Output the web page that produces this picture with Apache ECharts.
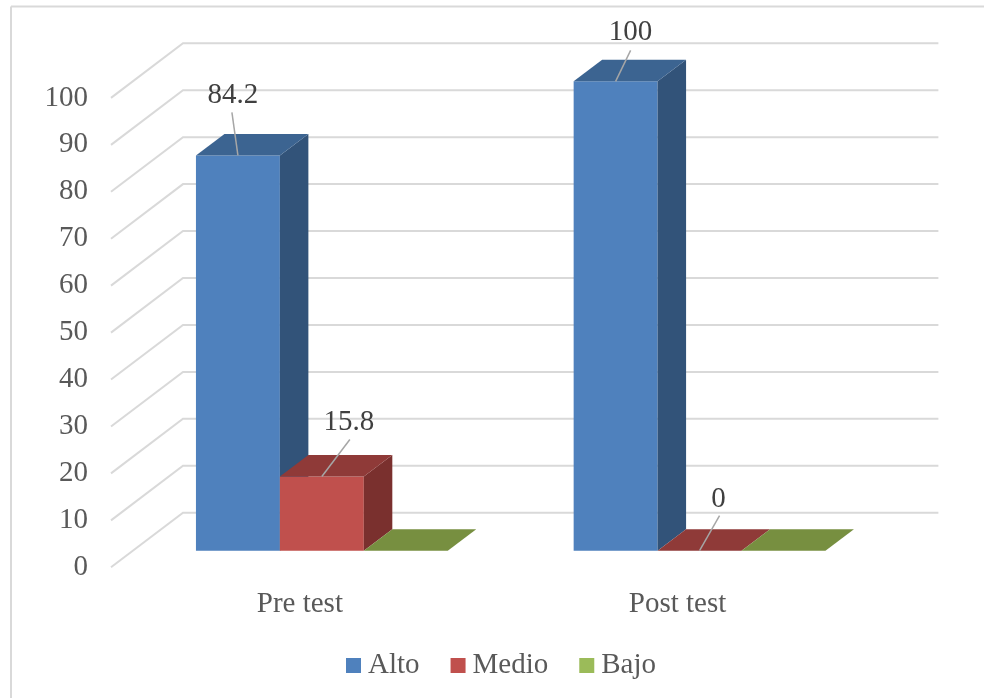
<!DOCTYPE html>
<html>
<head>
<meta charset="utf-8">
<style>html,body{margin:0;padding:0;background:#fff}#c{width:984px;height:698px}</style>
<script src="https://cdn.jsdelivr.net/npm/echarts@6/dist/echarts.min.js"></script>
</head>
<body>
<div id="c"></div>
<script>
const categories = ['Pre test', 'Post test'];
const alto = [84.2, 100];
const medio = [15.8, 0];
const bajo = [0, 0];
const ticks = [0, 10, 20, 30, 40, 50, 60, 70, 80, 90, 100];

const FONT = '"Liberation Serif", "Times New Roman", serif';
const WALL = { dx: 72, dy: -54.6 };
const PLANE = { dx: 22, dy: -16.6 };
const DEPTH = { dx: 28.5, dy: -21.5 };
const BAR_FRACTION = 2 / 9;

// Hand-placed data labels of the reference: offsets from the middle of the top front edge.
const labelPlacement = {
  Alto: [{ text: [-5, -60.5], line: [-6, -43] }, { text: [15, -49], line: [15, -31] }],
  Medio: [{ text: [27, -54.5], line: [28, -37] }, { text: [19, -51.5], line: [20, -35] }],
  Bajo: [null, null]
};

const palette = {
  Alto: { front: '#4f81bd', top: '#3c6491', side: '#325379' },
  Medio: { front: '#c0504d', top: '#8f3a38', side: '#7a302e' },
  Bajo: { front: '#9bbb59', top: '#778f40', side: '#62762f' }
};

function barSeries(name, values, index) {
  return {
    name, type: 'custom', z: 3, clip: false, silent: true,
    itemStyle: { color: palette[name].front },
    encode: { x: 0, y: 1 },
    data: values.map((v, i) => [i, v]),
    renderItem(params, api) {
      const band = api.size([1, 0])[0];
      const w = band * BAR_FRACTION;
      const cat = api.value(0);
      const base = api.coord([cat, 0]);
      const top = api.coord([cat, api.value(1)]);
      const x0 = base[0] + PLANE.dx - w * 1.5 + w * index;
      const x1 = x0 + w;
      const yb = base[1] + PLANE.dy;
      const yt = top[1] + PLANE.dy;
      const c = palette[name];
      const poly = (points, fill) => ({ type: 'polygon', shape: { points }, style: { fill } });
      const children = [];
      if (yb - yt > 0.5) {
        children.push(poly([[x0, yb], [x1, yb], [x1, yt], [x0, yt]], c.front));
        children.push(poly([[x1, yb], [x1 + DEPTH.dx, yb + DEPTH.dy], [x1 + DEPTH.dx, yt + DEPTH.dy], [x1, yt]], c.side));
      }
      children.push(poly([[x0, yt], [x1, yt], [x1 + DEPTH.dx, yt + DEPTH.dy], [x0 + DEPTH.dx, yt + DEPTH.dy]], c.top));
      const place = labelPlacement[name][cat];
      if (place) {
        const cx = (x0 + x1) / 2;
        children.push({
          type: 'line', z2: 5,
          shape: { x1: cx, y1: yt, x2: cx + place.line[0], y2: yt + place.line[1] },
          style: { stroke: '#a6a6a6', lineWidth: 1.5 }
        });
        children.push({
          type: 'text', z2: 6,
          style: {
            text: String(api.value(1)), x: cx + place.text[0], y: yt + place.text[1],
            align: 'center', verticalAlign: 'middle',
            font: '29px ' + FONT, fill: '#404040'
          }
        });
      }
      return { type: 'group', children };
    }
  };
}

const wallSeries = {
  type: 'custom', z: 1, clip: false, silent: true,
  encode: { x: 0, y: 1 },
  data: ticks.map(t => [0, t]),
  renderItem(params, api) {
    const cs = params.coordSys;
    const y = api.coord([0, api.value(1)])[1];
    return {
      type: 'polyline',
      shape: { points: [[cs.x, y], [cs.x + WALL.dx, y + WALL.dy], [cs.x + cs.width + WALL.dx, y + WALL.dy]] },
      style: { stroke: '#d9d9d9', lineWidth: 2, fill: null }
    };
  }
};

const chart = echarts.init(document.getElementById('c'), null, { renderer: 'canvas' });
chart.setOption({
  animation: false,
  backgroundColor: '#ffffff',
  textStyle: { fontFamily: FONT },
  grid: { left: 111, top: 97.9, width: 755.4, height: 469.4 },
  legend: {
    left: 346, top: 651, padding: 0, itemWidth: 15, itemHeight: 15, itemGap: 31, icon: 'rect',
    data: ['Alto', 'Medio', 'Bajo'],
    textStyle: { fontFamily: FONT, fontSize: 29, color: '#595959', padding: [0, 0, 0, 2] }
  },
  xAxis: {
    type: 'category', data: categories,
    axisLine: { show: false }, axisTick: { show: false }, splitLine: { show: false },
    axisLabel: { fontFamily: FONT, fontSize: 29, color: '#595959', margin: 23 }
  },
  yAxis: {
    type: 'value', min: 0, max: 100, interval: 10,
    axisLine: { show: false }, axisTick: { show: false }, splitLine: { show: false },
    axisLabel: { fontFamily: FONT, fontSize: 29, color: '#595959', margin: 23 }
  },
  graphic: [
    { type: 'line', silent: true, shape: { x1: 11, y1: 6.5, x2: 11, y2: 698 }, style: { stroke: '#d9d9d9', lineWidth: 2 } },
    { type: 'line', silent: true, shape: { x1: 11, y1: 6.5, x2: 984, y2: 6.5 }, style: { stroke: '#d9d9d9', lineWidth: 2 } }
  ],
  series: [wallSeries, barSeries('Alto', alto, 0), barSeries('Medio', medio, 1), barSeries('Bajo', bajo, 2)]
});
</script>
</body>
</html>
